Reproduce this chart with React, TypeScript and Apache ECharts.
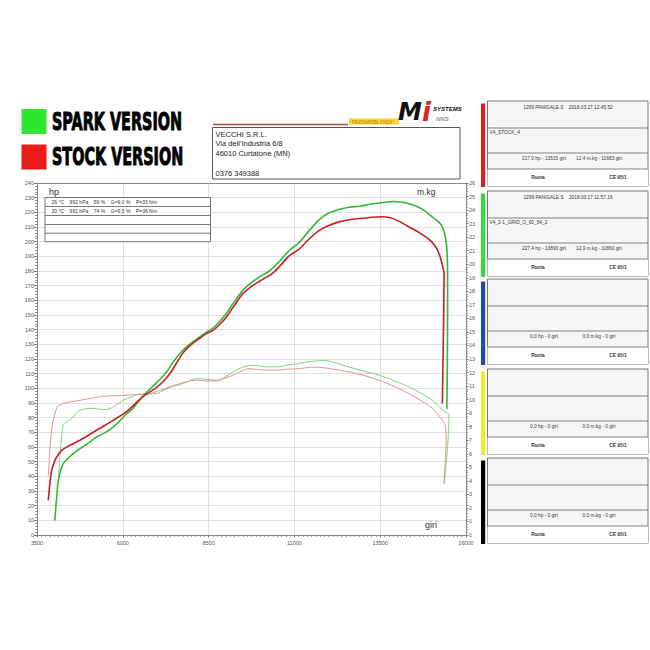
import React, { useEffect, useRef } from "react";
import * as echarts from "echarts";

// ---------- DATA ----------
const rpmMin = 3500;
const rpmMax = 16000;
const rpmStep = 2500;
const hpMax = 240;
const mkgMax = 26;

// thick green: SPARK power (hp) [giri, hp]
const sparkPower: [number, number][] = [
  [4020, 10], [4070, 25], [4120, 37], [4200, 45], [4265, 48.7], [4364, 51.4], [4550, 55.5],
  [4750, 58.9], [5000, 62.8], [5235, 66.8], [5500, 70], [5718, 73.6], [5900, 77.5], [6058, 81.5],
  [6300, 86.5], [6494, 92.3], [6700, 97.5], [6881, 101.5], [7100, 106.5], [7270, 111], [7500, 119],
  [7750, 126], [8000, 131], [8238, 135], [8450, 138.5], [8625, 141], [8800, 145], [9015, 151],
  [9250, 159], [9497, 166.8], [9750, 172], [9983, 176], [10200, 179], [10369, 182], [10600, 187.5],
  [10855, 194], [11145, 199.5], [11436, 207.7], [11727, 215], [12000, 219.5], [12300, 222],
  [12599, 223.5], [12900, 224.2], [13200, 225.5], [13471, 226.3], [13893, 227.4], [14100, 227],
  [14344, 225.8], [14700, 222.5], [15021, 216.8], [15200, 213.5], [15311, 210], [15400, 203],
  [15450, 192], [15465, 170], [15460, 130], [15450, 100], [15440, 86],
];

// thick red: STOCK power (hp)
const stockPower: [number, number][] = [
  [3828, 23.6], [3880, 36], [3927, 44], [4000, 49.5], [4073, 53.2], [4218, 57.7], [4450, 61],
  [4750, 64.6], [5000, 68], [5235, 71.4], [5500, 75], [5718, 78.2], [6000, 82.2], [6204, 86],
  [6450, 91.5], [6689, 96], [6950, 100], [7172, 104.5], [7400, 111], [7750, 124], [8000, 130],
  [8238, 134], [8450, 137.5], [8625, 139.5], [8800, 143], [9015, 148.5], [9250, 156.5],
  [9497, 164.5], [9750, 169.5], [9983, 173], [10200, 176], [10369, 178.5], [10600, 184],
  [10855, 190.5], [11145, 195], [11436, 202], [11727, 207.7], [12000, 211], [12300, 213.5],
  [12599, 215], [12900, 215.8], [13200, 216.5], [13515, 217], [13762, 216.5], [14000, 214.5],
  [14344, 210], [14650, 206], [14925, 201.5], [15100, 197], [15215, 191.8], [15300, 185],
  [15361, 178], [15350, 150], [15330, 120], [15311, 89.6],
];

// thin green: SPARK torque (m.kg)
const sparkTorque: [number, number][] = [
  [4110, 3.7], [4160, 5.5], [4220, 7.3], [4265, 8.1], [4360, 8.35], [4459, 8.5], [4600, 8.9],
  [4750, 9.2], [5041, 9.36], [5300, 9.3], [5526, 9.26], [5800, 9.6], [6009, 9.95], [6250, 10.2],
  [6494, 10.4], [6750, 10.42], [6980, 10.45], [7200, 10.7], [7400, 10.95], [7657, 11.1],
  [7900, 11.35], [8143, 11.55], [8450, 11.5], [8724, 11.43], [9000, 11.7], [9207, 12.04],
  [9450, 12.35], [9692, 12.53], [10000, 12.48], [10200, 12.42], [10468, 12.42], [10800, 12.55],
  [11145, 12.68], [11436, 12.8], [11860, 12.9], [12200, 12.72], [12599, 12.4], [13000, 12.12],
  [13471, 11.8], [13900, 11.4], [14344, 10.94], [14700, 10.45], [15021, 9.95], [15311, 9.25],
  [15450, 9.0], [15506, 8.9], [15490, 7.8], [15457, 6.25], [15410, 4.9], [15361, 3.8],
];

// thin pink: STOCK torque (m.kg)
const stockTorque: [number, number][] = [
  [3828, 4.33], [3880, 6.4], [3930, 7.9], [3974, 8.47], [4050, 9.2], [4119, 9.55], [4400, 9.8],
  [4750, 9.95], [5100, 10.1], [5427, 10.24], [6009, 10.31], [6494, 10.4], [6785, 10.44],
  [7100, 10.7], [7366, 10.94], [7750, 11.25], [8143, 11.43], [8450, 11.38], [8724, 11.38],
  [9000, 11.6], [9207, 11.8], [9450, 12.1], [9692, 12.29], [10000, 12.2], [10468, 12.17],
  [10800, 12.25], [11145, 12.29], [11436, 12.38], [11683, 12.4], [12000, 12.3], [12599, 12.04],
  [13000, 11.8], [13471, 11.43], [13900, 10.98], [14344, 10.44], [14700, 9.9], [15021, 9.34],
  [15311, 8.5], [15410, 7.97], [15420, 6.8], [15410, 6.25], [15380, 4.8], [15361, 3.8],
];

const legendLabels = ["SPARK VERSION", "STOCK VERSION"];
const companyLines = ["VECCHI S.R.L.", "Via dell'Industria 6/8", "46010 Curtatone (MN)", "0376 349388"];
const conditionRows = [
  "26 °C    992 hPa    59 %    G=9,0 %    P=33 Nm",
  "20 °C    991 hPa    74 %    G=9,5 %    P=36 Nm",
  "",
  "",
  "",
];
const panelHeaders = ["1299 PANIGALE S    2018.03.17 12.45.52", "1299 PANIGALE S    2018.03.17 11.57.16", "", "", ""];
const panelNames = ["V4_STOCK_4", "V4_2-1_GRID_O_60_54_2", "", "", ""];
const panelPower = ["217,0 hp - 13515 giri", "227,4 hp - 13893 giri", "0,0 hp - 0 giri", "0,0 hp - 0 giri", "0,0 hp - 0 giri"];
const panelTorque = ["12,4 m.kg - 11683 giri", "12,9 m.kg - 11860 giri", "0,0 m.kg - 0 giri", "0,0 m.kg - 0 giri", "0,0 m.kg - 0 giri"];
const panelFoot = ["Ruota", "CE 95/1"];
const axisNames = ["hp", "m.kg", "giri"];

// ---------- STYLE / LAYOUT ----------
const FONT = "'Liberation Sans', Arial, sans-serif";
const panelColors = ["#d82222", "#35d935", "#2346b5", "#f2ea2c", "#050505"];
const panelTops = [101, 191, 279, 369, 458];

function txt(x: number, y: number, text: string, size: number, o: any = {}) {
  const align = o.align || "left";
  const va = o.va || "middle";
  return {
    type: "text",
    x,
    y,
    scaleX: o.scaleX ?? 1,
    silent: true,
    z: 100,
    style: {
      text,
      fontSize: size,
      fontFamily: o.family || FONT,
      fontWeight: o.weight || "normal",
      fontStyle: o.fstyle || "normal",
      fill: o.fill || "#222",
      stroke: o.stroke || null,
      lineWidth: o.lw || 0,
      align,
      verticalAlign: va,
      textAlign: align,
      textVerticalAlign: va,
      rich: o.rich,
    },
  };
}
function rect(x: number, y: number, w: number, h: number, fill: string, stroke?: string, lw = 1) {
  return {
    type: "rect",
    silent: true,
    z: 90,
    shape: { x, y, width: w, height: h },
    style: { fill, stroke: stroke || null, lineWidth: lw },
  };
}
function line(x1: number, y1: number, x2: number, y2: number, stroke: string, lw = 1) {
  return {
    type: "line",
    silent: true,
    z: 95,
    shape: { x1, y1, x2, y2 },
    style: { stroke, lineWidth: lw },
  };
}

function buildGraphics() {
  const g: any[] = [];
  // legend
  g.push(rect(21.5, 109, 25, 25, "#2fe62f"));
  g.push(rect(21.5, 144.5, 25, 25, "#ee1b1b"));
  const legendFont = { weight: "bold", family: "'DejaVu Sans', sans-serif", scaleX: 0.6, fill: "#000", stroke: "#000", lw: 1 };
  g.push(txt(52, 122.5, legendLabels[0], 24, legendFont));
  g.push(txt(52, 157.5, legendLabels[1], 24, legendFont));

  // company header box
  g.push(line(213, 124.5, 348, 124.5, "#b5483a", 1.3));
  g.push(rect(212.5, 127.5, 247.5, 51.5, "#ffffff", "#555", 1));
  const cy = [134, 143.5, 153, 173.5];
  companyLines.forEach((t, i) => g.push(txt(215.5, cy[i], t, 7.5, { fill: "#222" })));

  // logo
  g.push(rect(349, 118.5, 50, 6, "#f5d33a"));
  g.push(txt(351, 121.8, "TECHNOLOGY", 6, { weight: "bold", fstyle: "italic", fill: "#d99400" }));
  g.push(
    txt(398, 125, "{m|M}{i|i}", 24, {
      weight: "bold",
      fstyle: "italic",
      fill: "#111",
      va: "bottom",
      family: "'DejaVu Sans', sans-serif",
      rich: {
        m: { fontSize: 24, fontWeight: "bold", fontStyle: "italic", fill: "#111", fontFamily: "'DejaVu Sans', sans-serif" },
        i: { fontSize: 26, fontWeight: "bold", fontStyle: "italic", fill: "#e0201c", fontFamily: "'DejaVu Sans', sans-serif" },
      },
    })
  );
  g.push(txt(433, 109, "SYSTEMS", 6, { weight: "bold", fstyle: "italic", fill: "#111" }));
  g.push(txt(436, 118.5, "NNS", 6, { fstyle: "italic", fill: "#555" }));

  // plot top border
  g.push(line(37, 183.5, 466, 183.5, "#8a8a8a", 1));
  // axis names
  g.push(txt(49, 191.5, axisNames[0], 9, { fill: "#333" }));
  g.push(txt(417, 191.5, axisNames[1], 8.5, { fill: "#333" }));
  g.push(txt(425, 525, axisNames[2], 9, { fill: "#333" }));

  // conditions table
  const ty = [197.5, 206.5, 215.5, 224.5, 233.2, 241.7];
  g.push(rect(45, 197.5, 165.5, 44.2, "#ffffff", "#555", 0.8));
  for (let i = 1; i < ty.length - 1; i++) g.push(line(45, ty[i], 210.5, ty[i], "#555", 0.8));
  conditionRows.forEach((t, i) => {
    if (t) g.push(txt(51.5, (ty[i] + ty[i + 1]) / 2, t, 5, { fill: "#333" }));
  });

  // side panels
  panelTops.forEach((top, i) => {
    const x0 = 487.5;
    const w = 160.5;
    const h = 85;
    g.push(rect(481, top + 2.5, 4.2, h - 1.5, panelColors[i]));
    g.push(rect(x0, top, w, h, "#f6f6f6", "#666", 0.9));
    g.push(rect(x0, top + 68, w, h - 68, "#ffffff"));
    g.push(line(x0, top + 27, x0 + w, top + 27, "#666", 0.8));
    g.push(line(x0, top + 52, x0 + w, top + 52, "#666", 0.8));
    g.push(line(x0, top + 68, x0 + w, top + 68, "#666", 0.8));
    if (panelHeaders[i]) g.push(txt(568, top + 6, panelHeaders[i], 4.8, { align: "center", fill: "#333" }));
    if (panelNames[i]) g.push(txt(489.5, top + 31.5, panelNames[i], 4.8, { fill: "#333" }));
    g.push(txt(544, top + 57, panelPower[i], 4.8, { align: "center", fill: "#333" }));
    g.push(txt(599, top + 57, panelTorque[i], 4.8, { align: "center", fill: "#333" }));
    g.push(txt(538, top + 76, panelFoot[0], 4.8, { align: "center", weight: "bold", fill: "#333" }));
    g.push(txt(618, top + 76, panelFoot[1], 4.8, { align: "center", weight: "bold", fill: "#333" }));
  });
  return g;
}

export default function App() {
  const ref = useRef<HTMLDivElement>(null);
  useEffect(() => {
    if (!ref.current) return;
    const chart = echarts.init(ref.current, null, { renderer: "svg" });
    const axisLabel = { fontSize: 5.5, color: "#555", fontFamily: FONT, formatter: (v: number) => String(v) };
    chart.setOption({
      animation: false,
      backgroundColor: "#ffffff",
      grid: { left: 37, right: 184, top: 183, bottom: 115, containLabel: false },
      xAxis: {
        type: "value",
        min: rpmMin,
        max: rpmMax,
        interval: rpmStep,
        axisLine: { show: true, lineStyle: { color: "#8a8a8a", width: 1 } },
        axisTick: { show: true, length: 2.5, lineStyle: { color: "#777" } },
        minorTick: { show: true, splitNumber: 20, length: 1.8, lineStyle: { color: "#8a8a8a" } },
        axisLabel: { ...axisLabel, margin: 5 },
        splitLine: { show: true, lineStyle: { color: "#e0e0e0", width: 1 } },
      },
      yAxis: [
        {
          type: "value",
          min: 0,
          max: hpMax,
          interval: 10,
          position: "left",
          axisLine: { show: true, lineStyle: { color: "#8a8a8a", width: 1 } },
          axisTick: { show: true, length: 3, lineStyle: { color: "#777" } },
          minorTick: { show: true, splitNumber: 5, length: 1.8, lineStyle: { color: "#8a8a8a" } },
          axisLabel: { ...axisLabel, margin: 3 },
          splitLine: { show: true, lineStyle: { color: "#e0e0e0", width: 1 } },
        },
        {
          type: "value",
          min: 0,
          max: mkgMax,
          interval: 1,
          position: "right",
          axisLine: { show: true, lineStyle: { color: "#8a8a8a", width: 1 } },
          axisTick: { show: true, length: 2.5, lineStyle: { color: "#777" } },
          minorTick: { show: true, splitNumber: 5, length: 1.8, lineStyle: { color: "#8a8a8a" } },
          axisLabel: { ...axisLabel, margin: 3 },
          splitLine: { show: false },
        },
      ],
      series: [
        {
          name: "SPARK torque",
          type: "line",
          yAxisIndex: 1,
          data: sparkTorque,
          showSymbol: false,
          smooth: 0.3,
          lineStyle: { color: "#7fd27f", width: 1 },
          z: 2,
        },
        {
          name: "STOCK torque",
          type: "line",
          yAxisIndex: 1,
          data: stockTorque,
          showSymbol: false,
          smooth: 0.3,
          lineStyle: { color: "#e29393", width: 1 },
          z: 2,
        },
        {
          name: "SPARK power",
          type: "line",
          yAxisIndex: 0,
          data: sparkPower,
          showSymbol: false,
          smooth: 0.3,
          lineStyle: { color: "#33b833", width: 1.6 },
          z: 3,
        },
        {
          name: "STOCK power",
          type: "line",
          yAxisIndex: 0,
          data: stockPower,
          showSymbol: false,
          smooth: 0.3,
          lineStyle: { color: "#c81e24", width: 1.6 },
          z: 4,
        },
      ],
      graphic: buildGraphics(),
    });
    return () => chart.dispose();
  }, []);
  return (
    <div
      ref={ref}
      style={{ position: "absolute", left: 0, top: 0, width: 650, height: 650, background: "#fff" }}
    />
  );
}
